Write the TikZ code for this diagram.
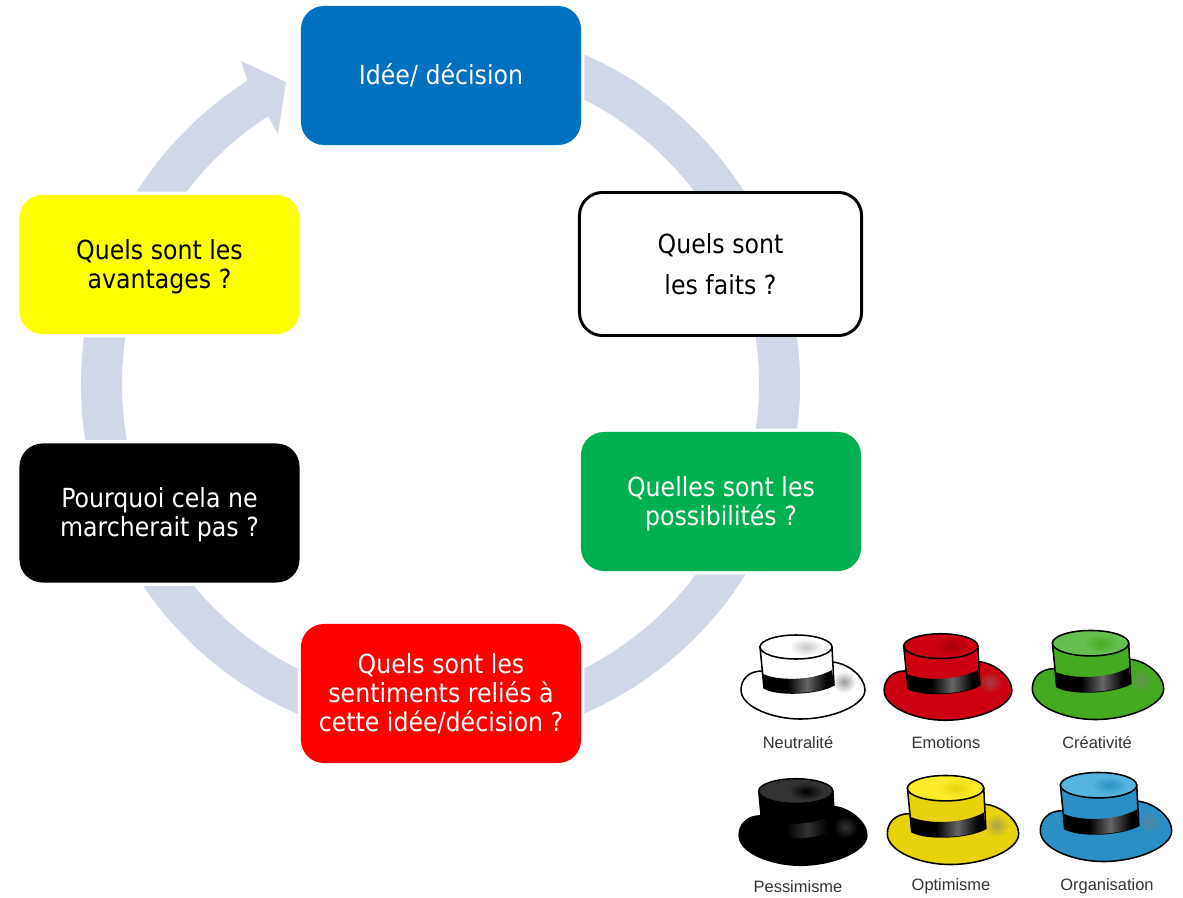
\documentclass[tikz,border=0pt]{standalone}
\usepackage{fontspec}
\setmainfont{DejaVu Sans Condensed}
\newfontfamily\labelfont{Liberation Sans}
\definecolor{ringblue}{HTML}{D0D8E8}
\definecolor{ideablue}{HTML}{0070C0}
\definecolor{optiongreen}{HTML}{00B050}
\definecolor{feelingred}{HTML}{FF0000}
\definecolor{gainyellow}{HTML}{FFFF00}
\definecolor{hatred}{HTML}{CC0011}
\definecolor{hatgreen}{HTML}{44AA22}
\definecolor{hatgreentop}{HTML}{66C050}
\definecolor{hatyellow}{HTML}{E8D20C}
\definecolor{hatyellowtop}{HTML}{FBEB2A}
\definecolor{hatblue}{HTML}{2A8FC4}
\definecolor{hatbluetop}{HTML}{55B4E0}
\definecolor{hatdark}{HTML}{333333}
\pgfdeclarehorizontalshading{bandplain}{100bp}{color(0bp)=(black);color(25bp)=(black);color(42bp)=(black);color(56bp)=(black!60);color(70bp)=(black);color(100bp)=(black)}
\pgfdeclarehorizontalshading{banddark}{100bp}{color(0bp)=(black);color(25bp)=(black);color(42bp)=(black);color(56bp)=(black!80);color(70bp)=(black);color(100bp)=(black)}
\newcommand{\lowstrut}{\rule{0pt}{17pt}}
\tikzset{
  question/.style={shape=rectangle,rounded corners=0.575cm,minimum width=7cm,minimum height=3.475cm,inner sep=0pt,align=center,
    font=\fontsize{18.7}{20.5}\selectfont},
  gapped/.style={preaction={draw=white,line width=4.6pt}},
  hatlabel/.style={font=\labelfont\fontsize{11.7}{13}\selectfont,text=black!80},
  pics/hatpic/.style n args={5}{code={
    \filldraw[fill=#1,draw=black,line width=1.1pt] (-41,6) .. controls (-55,6) and (-62,-3) .. (-62,-13) .. controls (-62,-30) and (-30,-42) .. (-3,-42) .. controls (30,-42) and (62,-28) .. (62,-13) .. controls (62,0) and (45,14) .. (29,15) -- (0,10) -- cycle;
    \shade[inner color=#3,outer color=#1] (41,-5) ellipse [x radius=12,y radius=11];
    \filldraw[fill=#1,draw=black,line width=1.1pt] (-43,30) -- (-39,-11) .. controls (-25,-19) and (15,-17) .. (31,-8) -- (29,30) -- cycle;
    \shade[shading=#5] (-40,3) .. controls (-25,-4) and (10,-4) .. (29,7) -- (31,-8) .. controls (15,-17) and (-25,-19) .. (-39,-11) -- cycle;
    \filldraw[fill=#2,draw=black,line width=1.1pt] (-7,30) ellipse [x radius=36,y radius=12];
    \shade[inner color=#4,outer color=#2] (3,30) ellipse [x radius=17,y radius=9];
  }}
}
\begin{document}
\begin{tikzpicture}[x=0.025cm,y=0.025cm]
    \useasboundingbox (0,0) rectangle (1183,897);
    \coordinate (ringc) at (440.5,513);

    \fill[ringblue] (ringc) ++(122.5:359.5) arc[start angle=122.5,end angle=450,radius=359.5] -- ++(0,-41) arc[start angle=450,end angle=122.5,radius=318.5] -- (268,781) -- (278,763) -- (286,815) -- (241,836) -- cycle;

    \node[question,gapped,fill=ideablue,text=white] (idea) at (441,821.5) {Id\'ee/ d\'ecision};
    \node[question,fill=white,draw=black,line width=2.1pt,minimum width=7.05cm,minimum height=3.575cm,font=\fontsize{18.7}{29}\selectfont] (facts) at (720.5,633) {Quels sont\\les faits ?};
    \node[question,gapped,fill=optiongreen,text=white] (options) at (721,395.5) {\lowstrut Quelles sont les\\possibilit\'es ?};
    \node[question,gapped,fill=feelingred,text=white] (feelings) at (441,203.5) {Quels sont les\\sentiments reli\'es \`a\\cette id\'ee/d\'ecision ?};
    \node[question,gapped,fill=black,text=white] (risks) at (159.5,384) {\lowstrut Pourquoi cela ne\\marcherait pas ?};
    \node[question,gapped,fill=gainyellow,text=black] (gains) at (159.5,632.5) {\lowstrut Quels sont les\\avantages ?};

    \pic at (803,220) {hatpic={white}{white}{black!40}{black!22}{bandplain}};
    \pic[scale=1.03] at (948,220) {hatpic={hatred}{hatred}{hatred!50!gray}{hatred!80!black}{bandplain}};
    \pic[scale=1.06] at (1098,222) {hatpic={hatgreen}{hatgreentop}{hatgreen!50!gray}{hatgreen}{bandplain}};
    \pic[scale=1.03] at (803,75) {hatpic={black}{hatdark}{hatdark}{black}{banddark}};
    \pic[scale=1.06] at (953,77) {hatpic={hatyellow}{hatyellowtop}{hatyellow!40!gray}{hatyellow}{bandplain}};
    \pic[scale=1.06] at (1106,80) {hatpic={hatblue}{hatbluetop}{hatblue!50!gray}{hatblue}{bandplain}};

    \node[hatlabel] (neutral) at (798,154.5) {Neutralit\'e};
    \node[hatlabel] (emotion) at (946,154.5) {Emotions};
    \node[hatlabel] (creative) at (1097,154.5) {Cr\'eativit\'e};
    \node[hatlabel] (pessimist) at (798,10.5) {Pessimisme};
    \node[hatlabel] (optimist) at (951,10.5) {Optimisme};
    \node[hatlabel] (organize) at (1107,10.5) {Organisation};
\end{tikzpicture}
\end{document}
